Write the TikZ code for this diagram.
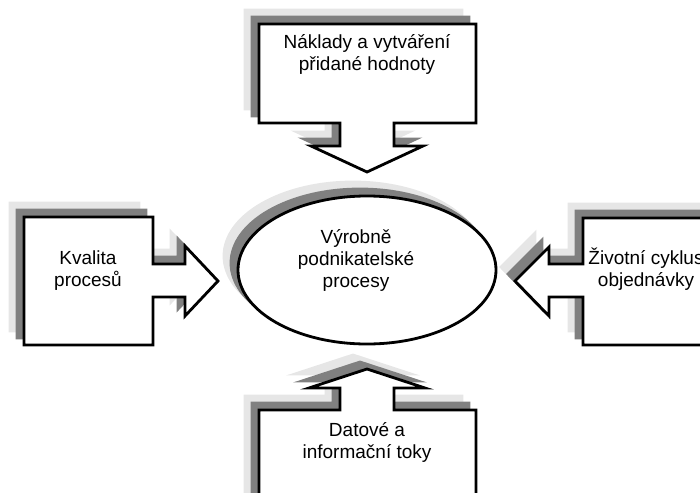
\documentclass[tikz,border=0pt]{standalone}
\usepackage{fontspec}
\setmainfont{Liberation Sans}
\definecolor{shadelight}{HTML}{E6E6E6}
\definecolor{shadedark}{HTML}{808080}
\tikzset{
  outline/.style={draw=black, fill=white, line width=2.8pt, line join=miter},
  shadeA/.style={fill=shadelight, draw=shadelight, line width=2.8pt},
  shadeB/.style={fill=shadedark, draw=shadedark, line width=2.8pt},
  % anchored at the baseline of the last line
  label/.style={align=center, anchor=base, inner sep=0pt,
    font=\fontsize{19pt}{22pt}\selectfont}
}
% a shape with two stacked drop shadows towards the upper left
\newcommand{\castshape}[1]{%
  \path[shadeA, shift={(-14,-14)}] #1;
  \path[shadeB, shift={(-7,-7)}] #1;
  \path[outline] #1;
}
\begin{document}
\begin{tikzpicture}[x=1pt, y=-1pt]
\useasboundingbox (0,0) rectangle (700,492);
\clip (0,0) rectangle (700,492);

% top callout pointing down
\castshape{(259,24) -- (476,24) -- (476,123) -- (394,123) -- (394,146) -- (423,146)
  -- (367,172) -- (311,146) -- (340,146) -- (340,123) -- (259,123) -- cycle}
% left callout pointing right
\castshape{(24,217) -- (153,217) -- (153,264) -- (185,264) -- (185,246) -- (218,281)
  -- (185,316) -- (185,297) -- (153,297) -- (153,345) -- (24,345) -- cycle}
% right callout pointing left
\castshape{(730,218) -- (583,218) -- (583,264) -- (549,264) -- (549,247) -- (515,281)
  -- (549,316) -- (549,297) -- (583,297) -- (583,345) -- (730,345) -- cycle}
% bottom callout pointing up
\castshape{(259,510) -- (259,410) -- (340,410) -- (340,388) -- (309,388) -- (367,369)
  -- (425,388) -- (394,388) -- (394,410) -- (476,410) -- (476,510) -- cycle}
% central ellipse
\castshape{(367,270) ellipse [x radius=129, y radius=74]}

\node[label] (naklady) at (367,71) {Náklady a vytváření\\přidané hodnoty};
\node[label] (kvalita) at (88,286) {Kvalita\\procesů};
\node[label] (procesy) at (356,287) {Výrobně\\podnikatelské\\procesy};
\node[label] (cyklus) at (646,286) {Životní cyklus\\objednávky};
\node[label] (toky) at (367,458) {Datové a\\informační toky};
\end{tikzpicture}
\end{document}
